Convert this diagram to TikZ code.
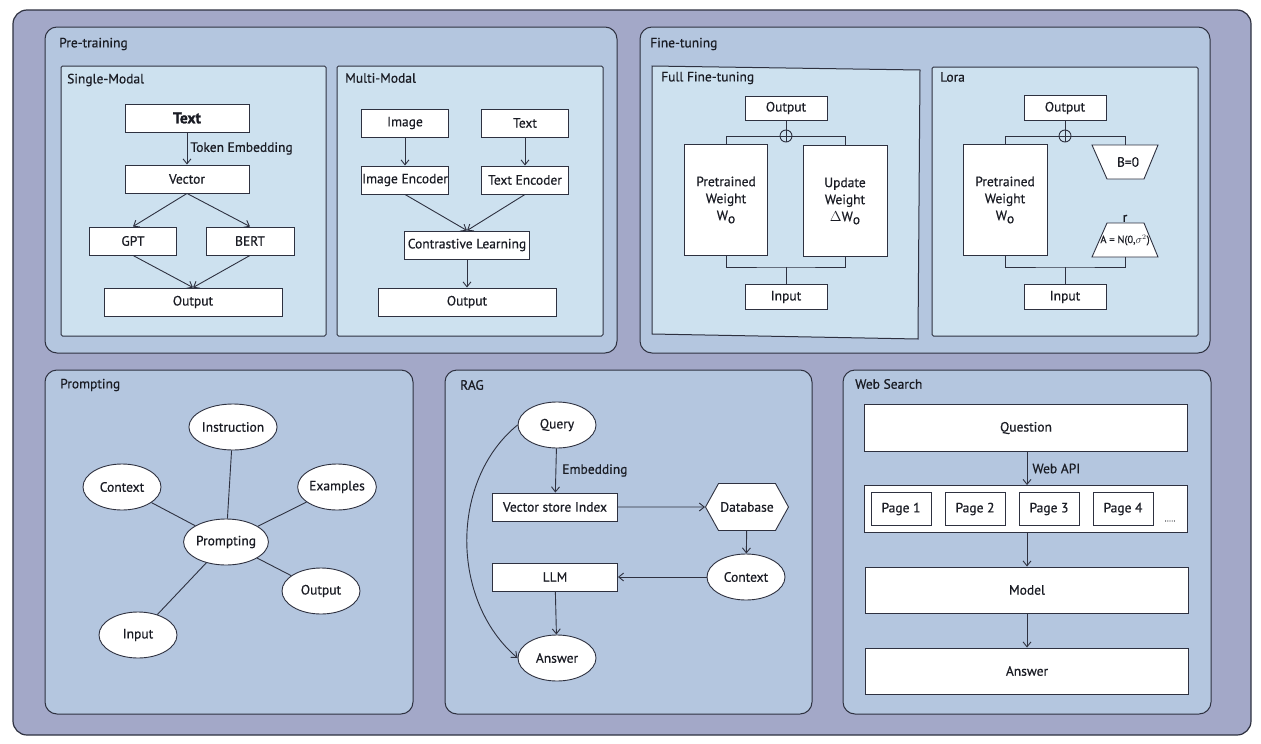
\documentclass[tikz,border=0pt]{standalone}
\usepackage{fontspec}
\setmainfont{PT Sans}[UprightFeatures={FakeBold=0.6}, BoldFeatures={FakeBold=1.2}]
\usetikzlibrary{arrows.meta,shapes.geometric,shapes.symbols}
\definecolor{bgc}{HTML}{A3A8C8}
\definecolor{panelc}{HTML}{B4C6DF}
\definecolor{innerc}{HTML}{CDE1EF}
\definecolor{linec}{HTML}{2E3140}
\definecolor{txtc}{HTML}{1A1C24}
\begin{document}
\begin{tikzpicture}[x=1pt,y=-1pt,
  font=\fontsize{13.5}{17}\selectfont, text=txtc,
  wh/.style 2 args={minimum width=#1, minimum height=#2},
  box/.style={draw=linec, fill=white, line width=0.9pt, inner sep=0pt, align=center},
  ell/.style={ellipse, draw=linec, fill=white, line width=0.9pt, inner sep=0pt, minimum width=78, minimum height=46},
  ln/.style={draw=linec, line width=0.9pt},
  arr/.style={ln, -{Straight Barb[length=5pt,width=8pt]}},
  panel/.style={draw=linec, fill=panelc, line width=1pt, rounded corners=12},
  inner/.style={draw=linec, fill=innerc, line width=1pt, rounded corners=1.5},
  ttl/.style={anchor=west, inner sep=0pt},
  plus/.style={circle, draw=linec, line width=0.9pt, minimum size=12, inner sep=0pt}
]
\useasboundingbox (0,0) rectangle (1261,744);
\fill[white] (0,0) rectangle (1261,744);
\draw[fill=bgc, draw=linec, line width=1.2pt, rounded corners=14] (13,10) rectangle (1251,735);

% panels
\draw[panel] (45,27) rectangle (617,353);
\draw[panel] (640,27) rectangle (1210,353);
\draw[panel] (45,370) rectangle (413,714);
\draw[panel] (445,370) rectangle (812,714);
\draw[panel] (843,370) rectangle (1211,714);
\draw[inner] (61,66) rectangle (326,336);
\draw[inner] (337,66) rectangle (603,336);
\draw[draw=linec, fill=innerc, line width=1pt] (652,66) -- (920,70) -- (918,339) -- (652,334) -- cycle;
\draw[inner] (932,67) rectangle (1198,336);

% titles
\node[ttl] (tPre) at (59,44) {Pre-training};
\node[ttl] (tSingle) at (67,80) {Single-Modal};
\node[ttl] (tMulti) at (345,78) {Multi-Modal};
\node[ttl] (tFine) at (650,44) {Fine-tuning};
\node[ttl] (tFull) at (661,78) {Full Fine-tuning};
\node[ttl] (tLora) at (940,77) {Lora};
\node[ttl] (tPrompt) at (60,385) {Prompting};
\node[ttl] (tRAG) at (460,385) {RAG};
\node[ttl] (tWeb) at (855,384) {Web Search};

% Single-Modal
\node[box, wh={124}{28}, font=\fontsize{15.5}{17}\selectfont\bfseries] (sText) at (187,118) {Text};
\node[box, wh={124}{28}] (sVec) at (187,179) {Vector};
\node[box, wh={87}{28}] (sGPT) at (133,241) {GPT};
\node[box, wh={88}{28}] (sBERT) at (250,241) {BERT};
\node[box, wh={178}{28}] (sOut) at (193,302) {Output};
\draw[arr] (sText) -- node[right, inner sep=3pt] {Token Embedding} (sVec);
\draw[arr] (sVec.south) -- (sGPT.north);
\draw[arr] (sVec.south) -- (sBERT.north);
\draw[arr] (sGPT.south) -- (sOut.north);
\draw[arr] (sBERT.south) -- (sOut.north);

% Multi-Modal
\node[box, wh={87}{28}] (mImg) at (405,123) {Image};
\node[box, wh={87}{28}] (mTxt) at (525,123) {Text};
\node[box, wh={87}{28}] (mImgE) at (405,180) {Image Encoder};
\node[box, wh={87}{28}] (mTxtE) at (525,180) {Text Encoder};
\node[box, wh={125}{28}] (mCon) at (467,245) {Contrastive Learning};
\node[box, wh={178}{28}] (mOut) at (467,302) {Output};
\draw[arr] (mImg) -- (mImgE);
\draw[arr] (mTxt) -- (mTxtE);
\draw[arr] (mImgE.south) -- (mCon.north);
\draw[arr] (mTxtE.south) -- (mCon.north);
\draw[arr] (mCon) -- (mOut);

% Full fine-tuning
\node[box, wh={82}{24}] (fOut) at (786,108) {Output};
\node[plus] (fPlus) at (786,136) {};
\draw[ln] (fPlus.north) -- (fPlus.south) (fPlus.west) -- (fPlus.east);
\node[box, wh={83}{111}] (fPre) at (726,200) {Pretrained\\Weight\\W\raisebox{-0.45ex}{o}};
\node[box, wh={84}{111}] (fUpd) at (845,201) {Update\\Weight\\$\Delta$W\raisebox{-0.45ex}{o}};
\node[box, wh={82}{25}] (fIn) at (786,297) {Input};
\coordinate (fJ) at (786,267);
\draw[ln] (fOut) -- (fPlus);
\draw[ln] (fPre.north) |- (fPlus.west);
\draw[ln] (fUpd.north) |- (fPlus.east);
\draw[ln] (fPre.south) |- (fJ) -| (fUpd.south);
\draw[ln] (fJ) -- (fIn);

% Lora
\node[box, wh={82}{25}] (lOut) at (1065,108) {Output};
\node[plus] (lPlus) at (1065,136) {};
\draw[ln] (lPlus.north) -- (lPlus.south) (lPlus.west) -- (lPlus.east);
\node[box, wh={84}{111}] (lPre) at (1005,200) {Pretrained\\Weight\\W\raisebox{-0.45ex}{o}};
\draw[ln, fill=white] (1092,145) -- (1158,145) -- (1144,179) -- (1107,179) -- cycle;
\node[inner sep=0pt, wh={66}{34}] (lB) at (1125,162) {\hspace{6pt}B=0};
\draw[ln, fill=white] (1107,223) -- (1144,223) -- (1158,257) -- (1092,257) -- cycle;
\node[inner sep=0pt, wh={66}{34}, font=\fontsize{10.5}{12}\selectfont] (lA) at (1125,240) {\raisebox{-3pt}{A = N(0,$\sigma^2$)}};
\node[inner sep=1pt, anchor=south] (lR) at (1125,223) {r};
\node[box, wh={82}{25}] (lIn) at (1065,297) {Input};
\coordinate (lJ) at (1065,267);
\draw[ln] (lOut) -- (lPlus);
\draw[ln] (lPre.north) |- (lPlus.west);
\draw[ln] (lB.north) |- (lPlus.east);
\draw[ln] (lPre.south) |- (lJ) -| (lA.south);
\draw[ln] (lJ) -- (lIn);

% Prompting
\node[ell, minimum width=78] (pInstr) at (233,427) {Instruction};
\node[ell] (pCtx) at (122,487) {Context};
\node[ell] (pEx) at (337,487) {Examples};
\node[ell, minimum width=70] (pPr) at (226,542) {Prompting};
\node[ell] (pOut) at (321,591) {Output};
\node[ell] (pIn) at (138,635) {Input};
\draw[ln] (pPr) -- (pInstr);
\draw[ln] (pPr) -- (pCtx);
\draw[ln] (pPr) -- (pEx);
\draw[ln] (pPr) -- (pOut);
\draw[ln] (pPr) -- (pIn);

% RAG
\node[ell] (rQ) at (557,425) {Query};
\node[box, wh={125}{28}] (rVSI) at (555,507) {Vector store Index};
\node[signal, signal to=west and east, signal pointer angle=122, draw=linec, fill=white, line width=0.9pt, inner sep=0pt, wh={83}{47}] (rDB) at (747,507) {Database};
\node[ell] (rCtx) at (746,577) {Context};
\node[box, wh={125}{28}] (rLLM) at (555,577) {LLM};
\node[ell] (rAns) at (557,658) {Answer};
\draw[arr] (rQ) -- node[right, inner sep=6pt] {Embedding} (rVSI);
\draw[arr] (rVSI) -- (rDB);
\draw[arr] (rDB) -- (rCtx);
\draw[arr] (rCtx) -- (rLLM);
\draw[arr] (rLLM) -- (rAns);
\draw[arr] (rQ.west) .. controls (450,480) and (450,600) .. (rAns.west);

% Web Search
\node[box, wh={323}{47}] (wQ) at (1026,428) {Question};
\node[box, wh={323}{47}] (wPg) at (1026,509) {};
\node[box, wh={60}{33}] (wP1) at (901,509) {Page 1};
\node[box, wh={60}{33}] (wP2) at (975,509) {Page 2};
\node[box, wh={60}{33}] (wP3) at (1049,509) {Page 3};
\node[box, wh={60}{33}] (wP4) at (1123,509) {Page 4};
\node[inner sep=0pt, font=\fontsize{8}{8}\selectfont] (wDots) at (1170,521) {.....};
\node[box, wh={323}{46}] (wM) at (1027,590) {Model};
\node[box, wh={323}{46}] (wA) at (1027,671) {Answer};
\draw[arr] (wQ.south -| 1027,0) -- node[right, inner sep=5pt] {Web API} (wPg.north -| 1027,0);
\draw[arr] (wPg.south -| wM.north) -- (wM.north);
\draw[arr] (wM) -- (wA);
\end{tikzpicture}
\end{document}
